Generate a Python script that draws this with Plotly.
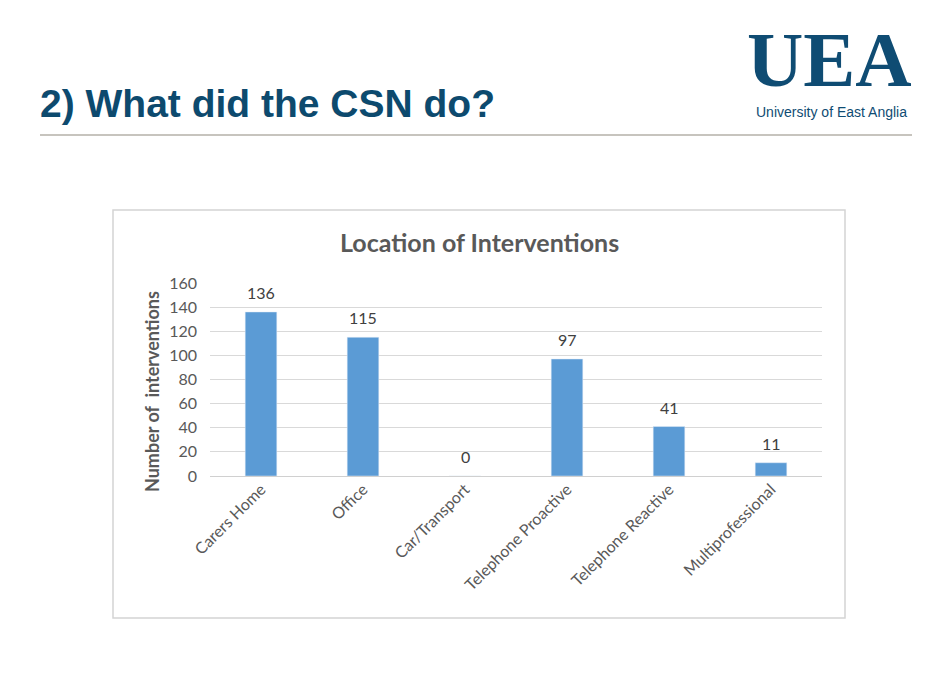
import plotly.graph_objects as go

categories = ["Carers Home", "Office", "Car/Transport", "Telephone Proactive",
              "Telephone Reactive", "Multiprofessional"]
interventions = [136, 115, 0, 97, 41, 11]
y_ticks = [0, 20, 40, 60, 80, 100, 120, 140, 160]

W, H = 940, 682
# plot area in pixels
PL, PR, PT, PB = 210, 822, 283, 476

BLUE_DARK = "#0d4a6e"
BAR_BLUE = "#5b9bd5"
GREY_TXT = "#595959"


def px_x(x):
    return (x - PL) / (PR - PL)


def px_y(y):
    return (PB - y) / (PB - PT)


fig = go.Figure(go.Bar(
    x=categories,
    y=interventions,
    marker=dict(color=BAR_BLUE),
    width=0.31,
    hoverinfo="x+y",
))

# value labels sit a little higher above the bars than plotly's own outside text
value_labels = [
    dict(x=c, y=v, text=str(v), xref="x", yref="y", xanchor="center", yanchor="bottom",
         yshift=8, showarrow=False, font=dict(family="Lato", size=16, color="#404040"))
    for c, v in zip(categories, interventions)
]

fig.update_layout(
    width=W, height=H,
    margin=dict(l=PL, r=W - PR, t=PT, b=H - PB, autoexpand=False),
    paper_bgcolor="white",
    plot_bgcolor="white",
    showlegend=False,
    font=dict(family="Lato", color=GREY_TXT),
    xaxis=dict(
        tickangle=-45,
        tickfont=dict(size=16, color=GREY_TXT),
        showgrid=False,
        showline=False,
        automargin=False,
    ),
    yaxis=dict(
        range=[0, 160],
        tickvals=y_ticks,
        tickfont=dict(size=16, color=GREY_TXT),
        gridcolor="#d9d9d9",
        zeroline=True,
        zerolinecolor="#d0d0d0",
        zerolinewidth=1,
        ticklabelstandoff=12,
        automargin=False,
    ),
    shapes=[
        # chart frame
        dict(type="rect", xref="paper", yref="paper",
             x0=px_x(113), x1=px_x(845), y0=px_y(618), y1=px_y(210),
             line=dict(color="#d4d4d4", width=1.5), layer="below"),
        # slide rule under title
        dict(type="line", xref="paper", yref="paper",
             x0=px_x(40), x1=px_x(912), y0=px_y(135), y1=px_y(135),
             line=dict(color="#b5b0a8", width=1.5)),
    ],
    annotations=value_labels + [
        dict(text="<b>Number of  interventions</b>", xref="paper", yref="paper",
             x=px_x(152), y=px_y(392), xanchor="center", yanchor="middle", textangle=-90,
             showarrow=False, font=dict(family="Lato", size=18, color=GREY_TXT)),
        dict(text="<b>Location of Interventions</b>", xref="paper", yref="paper",
             x=px_x(479), y=px_y(242), xanchor="center", yanchor="middle",
             showarrow=False, font=dict(family="Lato", size=25, color=GREY_TXT)),
        dict(text="<b>2) What did the CSN do?</b>", xref="paper", yref="paper",
             x=px_x(38), y=px_y(103), xanchor="left", yanchor="middle",
             showarrow=False, font=dict(family="Liberation Sans", size=39, color=BLUE_DARK)),
        dict(text="<b>UEA</b>", xref="paper", yref="paper",
             x=px_x(829), y=px_y(60), xanchor="center", yanchor="middle",
             showarrow=False, font=dict(family="Liberation Serif", size=78, color="#0f4c73")),
        dict(text="University of East Anglia", xref="paper", yref="paper",
             x=px_x(831), y=px_y(112), xanchor="center", yanchor="middle",
             showarrow=False, font=dict(family="Liberation Sans", size=14, color="#0f4c73")),
    ],
)

# page body has a default 8px margin; drop it so the figure sits at 0,0
fig.write_html("out.html", config={"displayModeBar": False},
               post_script="document.body.style.margin='0';")
